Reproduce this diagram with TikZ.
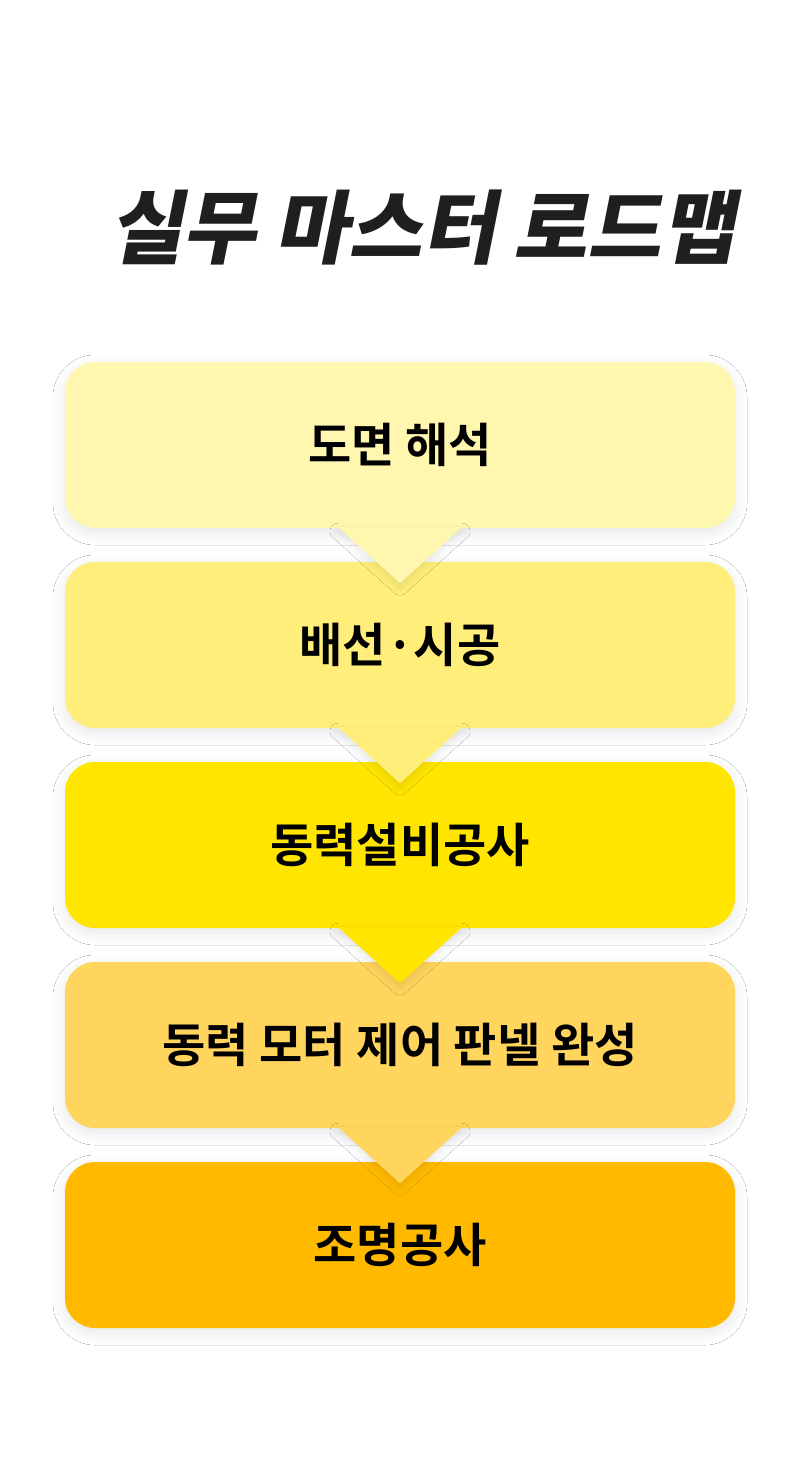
\documentclass[tikz,border=0pt]{standalone}
\usepackage{fontspec}
\usetikzlibrary{shadows.blur}
\newfontfamily\kr{Noto Sans CJK KR Bold}
\newfontfamily\krt[FakeSlant=0.2]{Noto Sans CJK KR Black}
\definecolor{c1}{HTML}{FFF6B0}
\definecolor{c2}{HTML}{FFEE7A}
\definecolor{c3}{HTML}{FFE500}
\definecolor{c4}{HTML}{FFD55E}
\definecolor{c5}{HTML}{FFBA00}
\tikzset{stepbox/.style={rounded corners=30pt,minimum width=670pt,minimum height=166pt,inner sep=0pt,
  font=\kr\fontsize{47}{50}\selectfont,text=black,blur shadow={shadow xshift=0pt,shadow yshift=-5pt,shadow blur radius=12pt,shadow blur steps=12,shadow opacity=10}},
  tip/.style={blur shadow={shadow xshift=0pt,shadow yshift=-4pt,shadow blur radius=8pt,shadow blur steps=8,shadow opacity=10}}}
\begin{document}
\begin{tikzpicture}[x=1pt,y=-1pt]
\useasboundingbox[fill=white] (0,0) rectangle (800,1482);
\node[font=\krt\fontsize{80}{82}\selectfont,text=black!88] (title) at (422,228) {실무 마스터 로드맵};
\node[stepbox,fill=c1] (b1) at (400,445) {도면 해석};
\node[stepbox,fill=c2] (b2) at (400,645) {배선·시공};
\node[stepbox,fill=c3] (b3) at (400,845) {동력설비공사};
\node[stepbox,fill=c4] (b4) at (400,1045) {동력 모터 제어 판넬 완성};
\node[stepbox,fill=c5] (b5) at (400,1245) {조명공사};
\foreach \a/\c in {b1/c1,b2/c2,b3/c3,b4/c4}{
  \fill[\c,tip] ([xshift=-62pt,yshift=1pt]\a.south) -- ([yshift=-55pt]\a.south) -- ([xshift=62pt,yshift=1pt]\a.south) -- cycle;
}
\end{tikzpicture}
\end{document}
